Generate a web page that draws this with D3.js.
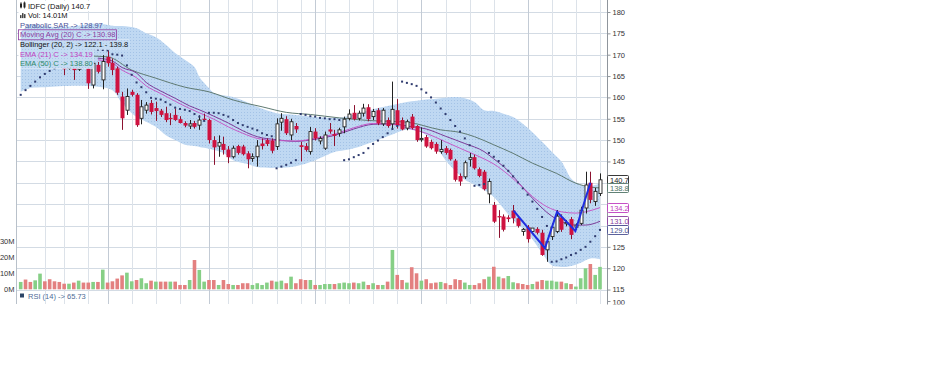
<!DOCTYPE html>
<html>
<head>
<meta charset="utf-8">
<script src="https://cdn.jsdelivr.net/npm/d3@7"></script>
<style>
    body { margin: 0; background: #fff; }
    svg text { font-family: "Liberation Sans", Arial, sans-serif; font-size: 7.5px; }
</style>
</head>
<body>
<div id="chart"></div>
<script>
// ---- data (daily candles, index 0..120) ----
const opens  = [168.0,169.4,168.9,167.8,168.6,170.0,169.4,168.9,168.4,168.3,166.8,168.2,166.6,168.3,166.8,162.9,167.6,164.1,169.5,168.1,
                166.8,160.2,157.0,161.3,160.6,155.1,157.0,158.7,157.5,156.9,156.3,155.2,155.9,154.9,154.0,153.3,154.0,153.5,155.0,154.7,
                150.0,148.6,149.1,147.8,146.1,148.6,148.5,146.9,145.7,146.1,149.2,150.0,149.9,148.5,154.2,154.9,151.2,153.3,148.8,148.6,
                147.3,152.0,149.8,148.1,152.5,151.4,151.6,153.1,155.1,156.4,155.1,156.3,157.7,155.5,157.0,153.8,154.7,153.8,157.0,154.7,
                152.8,155.5,153.3,150.1,150.7,149.6,149.1,147.3,148.1,147.7,145.2,141.6,141.4,145.5,146.0,143.2,142.6,137.4,134.8,132.2,
                132.1,131.9,133.5,131.7,128.6,129.6,128.6,129.2,128.3,124.3,127.4,128.6,131.9,130.4,131.5,129.6,130.5,134.1,140.0,135.6,137.5];
const highs  = [169.6,170.3,169.5,169.4,170.5,170.8,170.0,169.5,169.0,168.6,168.6,168.4,168.4,169.0,167.6,168.4,168.3,169.9,171.0,169.1,
                167.2,161.3,162.1,161.8,161.0,159.4,158.9,159.4,159.0,157.3,157.8,156.3,157.4,155.6,154.4,154.7,154.5,155.8,156.2,155.0,
                150.9,151.1,150.8,148.6,148.7,148.9,148.9,147.4,146.9,150.0,150.4,150.4,150.4,155.1,156.3,155.6,155.0,154.0,149.6,149.3,
                153.1,152.8,150.9,152.0,154.0,152.4,152.9,155.5,157.2,158.2,156.9,158.5,158.4,157.3,157.5,157.5,155.3,163.7,159.6,155.3,
                154.8,156.1,153.5,153.0,151.2,150.1,149.5,150.0,148.6,148.0,145.6,142.2,145.2,147.0,146.6,143.6,143.0,141.0,135.5,133.6,
                132.6,132.4,134.8,132.2,129.4,130.1,129.4,129.6,129.0,126.6,130.5,133.6,132.6,131.3,132.0,130.5,134.4,142.6,142.6,138.8,142.2];
const lows   = [167.2,168.0,167.4,167.3,168.2,168.6,168.1,167.5,167.4,165.2,166.5,164.1,166.2,166.8,162.0,162.1,165.6,161.9,167.2,165.2,
                160.6,152.4,155.9,160.2,153.1,153.7,156.2,156.0,154.5,155.4,154.2,153.5,154.5,153.9,153.0,152.6,152.7,152.4,154.5,149.2,
                144.2,146.1,146.6,144.6,145.7,146.6,146.4,143.4,144.9,143.8,147.8,148.6,146.9,147.7,152.2,151.2,150.0,151.7,145.0,147.3,
                146.6,149.9,149.0,147.7,151.5,148.6,150.8,151.6,154.6,154.6,154.6,155.5,154.4,154.7,153.5,153.3,152.9,152.8,152.7,152.3,
                152.3,152.5,149.6,149.6,148.2,147.8,146.8,146.8,146.6,145.2,140.3,139.3,140.9,143.8,143.1,141.3,138.2,135.2,130.6,127.1,
                128.6,130.8,130.5,129.5,127.6,126.0,128.0,127.9,122.9,121.5,126.6,128.2,128.5,129.8,126.8,129.0,130.1,132.8,135.2,134.6,136.9];
const closes = [169.0,168.6,168.0,168.8,169.6,169.2,168.7,168.2,167.6,166.6,168.0,166.4,167.9,167.2,163.3,168.0,166.0,168.4,168.0,166.4,
                161.1,155.1,160.2,160.6,153.5,157.8,158.2,156.6,156.8,155.9,154.7,154.9,154.7,154.0,153.4,153.8,153.1,154.7,154.7,150.0,
                148.3,149.4,147.7,146.0,148.1,147.0,146.7,145.5,146.1,148.6,148.6,149.1,147.5,153.8,155.1,151.6,154.3,152.5,148.4,147.7,
                152.0,150.4,150.4,151.2,152.0,151.0,152.4,154.9,156.1,154.9,156.3,157.5,154.9,156.7,153.9,157.0,153.3,157.2,153.5,152.5,
                154.3,152.8,150.0,150.4,148.5,148.1,147.3,147.8,147.0,145.5,140.7,140.3,144.7,145.9,143.4,141.6,138.5,140.3,130.9,131.9,
                129.0,131.5,131.7,129.9,129.1,126.8,129.4,128.3,123.1,126.2,129.6,132.2,129.0,130.7,127.8,130.1,133.6,139.5,136.0,138.0,140.7];
// volume, millions
const volumes = [4.6,6.1,4.6,5.6,9.8,5.0,6.3,5.0,4.6,3.5,3.5,4.2,5.4,4.2,4.2,4.6,4.6,12.3,4.2,5.0,
                 6.7,8.7,10.4,5.0,5.8,6.9,3.8,5.4,4.8,4.8,4.8,4.8,4.8,2.7,2.7,5.8,18.3,12.1,4.8,5.8,
                 5.8,2.7,5.8,3.3,2.7,2.7,3.8,3.8,2.7,3.8,2.7,4.2,5.4,4.8,5.4,3.8,7.9,3.8,6.3,5.8,
                 5.8,2.7,2.7,3.3,3.3,3.3,3.8,4.2,3.8,4.2,3.8,4.8,2.7,3.8,2.7,2.7,4.8,24.6,9.0,5.8,
                 4.2,13.8,10.0,5.4,6.3,3.8,4.2,4.6,3.8,2.7,6.3,5.8,4.2,2.7,2.7,3.8,6.3,7.9,14.1,7.9,
                 6.9,8.3,4.4,3.8,3.3,2.7,3.3,4.8,5.8,5.4,5.4,4.8,4.8,3.8,3.3,1.7,6.9,13.1,15.8,9.0,14.01];
// parabolic SAR, one dot per candle
const sar = [160.6,161.7,162.7,163.7,164.7,165.5,166.2,166.8,167.3,171.6,171.5,171.5,171.4,171.3,171.3,171.2,171.2,171.1,171.0,170.1,
             170.0,169.8,167.5,165.3,163.5,162.4,161.2,159.9,159.7,159.5,158.9,158.3,157.6,157.3,157.1,156.8,156.1,155.5,154.5,156.4,
             156.4,156.3,155.9,155.5,154.7,154.0,153.5,153.1,152.7,152.3,151.6,151.2,150.9,143.4,143.8,144.2,144.7,145.3,156.1,155.9,
             155.6,155.5,155.2,155.1,154.9,154.9,154.7,145.3,145.5,146.0,146.5,147.0,148.1,149.1,149.9,150.7,151.6,152.6,153.3,163.7,
             163.4,163.1,162.7,161.9,161.1,160.0,158.8,157.4,156.1,154.7,153.3,152.0,150.4,148.8,139.3,139.5,139.7,147.0,146.1,145.1,
             144.0,142.8,141.5,140.1,138.7,137.2,135.6,133.9,132.0,129.9,121.5,121.6,122.1,122.5,123.1,123.5,124.3,125.0,126.2,127.5,128.97];
// Bollinger (20,2), sampled
const bandIdx   = [0,2,5,8,12,16,19,21,24,26,28,30,32,34,36,37,39,40,42,44,47,49,53,57,61,65,67,70,74,77,80,84,86,88,90,92,94,96,98,100,102,105,108,110,112,113,114,116,118,120];
const bandUpper = [175.3,177.0,176.6,176.5,176.8,177.3,176.8,176.7,176.2,175.0,174.1,172.4,170.4,168.8,167.1,164.8,162.2,161.0,160.5,160.1,158.8,157.8,156.3,155.9,155.4,155.2,155.4,156.3,157.5,158.2,158.9,159.5,159.7,159.9,160.1,159.8,158.9,157.0,156.8,156.2,155.4,152.9,149.6,147.3,145.0,143.0,141.0,139.5,139.3,139.8];
const bandLower = [161.3,162.2,162.4,162.6,162.7,162.5,161.7,158.7,155.4,154.3,153.1,151.2,150.0,148.9,148.6,148.4,148.0,147.7,147.0,145.3,144.4,143.7,143.5,143.9,145.3,147.2,147.6,148.4,150.0,151.3,152.4,151.2,148.5,145.3,142.8,140.7,139.6,138.3,136.7,134.0,131.3,128.2,123.6,120.7,120.3,120.3,120.5,121.3,122.3,122.1];
// moving averages, sampled
const ma20Idx  = [16,19,21,24,26,29,32,35,37,40,43,46,49,53,57,61,65,69,73,77,80,84,88,92,96,98,101,104,106,110,115,117,120];
const ma20Val  = [169.2,168.5,167.0,165.7,163.5,161.5,159.8,158.0,157.1,155.6,154.0,152.2,150.8,150.1,149.7,150.2,151.1,152.6,153.7,153.8,153.3,152.6,150.9,149.2,147.3,145.6,142.8,138.9,136.4,132.2,130.1,130.1,130.98];
const ema21Idx = [16,19,21,24,26,29,32,35,37,40,43,46,49,53,57,61,65,69,73,77,80,84,88,92,96,98,101,104,106,109,112,115,117,120];
const ema21Val = [168.8,168.0,166.4,164.6,162.7,160.9,159.1,157.4,156.4,154.9,153.1,151.6,150.4,149.9,149.8,150.4,151.4,152.9,153.9,153.7,152.9,151.6,149.6,147.6,145.6,144.4,141.9,138.9,136.8,134.4,133.2,132.9,133.2,134.19];
const ema50Idx = [14,18,23,28,34,39,44,50,55,60,66,72,80,87,91,94,98,102,106,111,115,118,120];
const ema50Val = [169.7,169.5,166.4,164.5,162.4,161.3,159.4,157.8,156.5,156.0,155.2,154.6,154.2,152.4,151.8,150.8,148.9,146.9,144.6,142.2,139.9,139.0,138.8];
// hand drawn trend line
const trendIdx = [102.1,108.6,111.1,114.9,118.0];
const trendVal = [133.5,124.7,133.2,128.7,140.0];
// grid (candle index of the week / month start) and ticks
const weekTicks   = [5,9,14,23,28,33,43,48,53,58,63,68,73,78,88,93,98,110,115,120];
const monthTicks  = [18,39,61,83,105];
const priceTicks  = [180,175,170,165,160,155,150,145,140,135,130,125,120,115];
const priceLabels = [180,175,170,165,160,155,150,145,125,120,115];
const volTicks    = [0,10,20,30];
const lastValues = [
    {v: 140.7, label: '140.7', color: '#222'},
    {v: 138.8, label: '138.8', color: '#4f7466'},
    {v: 134.19, label: '134.2', color: '#c03cc0'},
    {v: 130.98, label: '131.0', color: '#8a3a9e'},
    {v: 128.97, label: '129.0', color: '#4a4f90'}
];
const legendRows = [
    {text: 'IDFC (Daily) 140.7', color: '#111', icon: 'candle'},
    {text: 'Vol: 14.01M', color: '#111', icon: 'bars'},
    {text: 'Parabolic SAR -> 128.97', color: '#4a5298'},
    {text: 'Moving Avg (20) C -> 130.98', color: '#8a3a9e', box: true},
    {text: 'Bollinger (20, 2) -> 122.1 - 139.8', color: '#111'},
    {text: 'EMA (21) C -> 134.19', color: '#c03cc0'},
    {text: 'EMA (50) C -> 138.80', color: '#2f8a6a'}
];

class StockChart {
    constructor(el) {
        this.svg = d3.select(el).append('svg').attr('width', 940).attr('height', 385);
        this.n = closes.length;
        this.draw();
    }

    draw() {
        this.createScales();
        this.addDefs();
        this.addGrid();
        this.addBand();
        this.addVolume();
        this.addLines();
        this.addCandles();
        this.addSar();
        this.addTrend();
        this.addAxes();
        this.addLegend();
    }

    createScales() {
        this.x = d3.scaleLinear().domain([0, this.n - 1]).range([20.7, 600]);
        this.y = d3.scaleLinear().domain([115, 180]).range([289.55, 12]);
        this.vy = d3.scaleLinear().domain([0, 30]).range([289.3, 241.3]);
    }

    addDefs() {
        this.defs = this.svg.append('defs');
        const p = this.defs.append('pattern').attr('id', 'stip')
            .attr('patternUnits', 'userSpaceOnUse').attr('width', 3).attr('height', 3);
        p.append('rect').attr('width', 3).attr('height', 3).attr('fill', '#bfd8f2');
        p.append('rect').attr('x', 1).attr('y', 1).attr('width', 1).attr('height', 1).attr('fill', '#a3c2e6');
        this.defs.append('clipPath').attr('id', 'cut').append('rect')
            .attr('x', 0).attr('y', 0).attr('width', 940).attr('height', 304.5);
    }

    addGrid() {
        const g = this.svg.append('g').attr('class', 'grid');
        g.selectAll('line.h').data(priceTicks).join('line')
            .attr('x1', 16).attr('x2', 607)
            .attr('y1', d => Math.round(this.y(d)) + 0.5).attr('y2', d => Math.round(this.y(d)) + 0.5)
            .attr('stroke', '#d3dbe4');
        g.selectAll('line.w').data(weekTicks).join('line')
            .attr('x1', d => Math.round(this.x(d)) + 0.5).attr('x2', d => Math.round(this.x(d)) + 0.5)
            .attr('y1', 0).attr('y2', 304)
            .attr('stroke', '#dce2e9');
        g.selectAll('line.m').data(monthTicks).join('line')
            .attr('x1', d => Math.round(this.x(d)) + 0.5).attr('x2', d => Math.round(this.x(d)) + 0.5)
            .attr('y1', 0).attr('y2', 304)
            .attr('stroke', '#c3cbd5');
        // left border
        g.append('line').attr('x1', 16.5).attr('x2', 16.5).attr('y1', 0).attr('y2', 304).attr('stroke', '#b9c1ca');
    }

    addBand() {
        const area = d3.area()
            .x(d => this.x(d.i)).y0(d => this.y(d.lo)).y1(d => this.y(d.up))
            .curve(d3.curveCatmullRom.alpha(0.5));
        const pts = bandIdx.map((i, k) => ({i, up: bandUpper[k], lo: bandLower[k]}));
        this.bandPath = area(pts);
        this.svg.append('path').attr('d', this.bandPath).attr('fill', 'url(#stip)');
    }

    addVolume() {
        const bars = volumes.map((v, i) => ({i, v, up: i === 0 || closes[i] >= closes[i - 1]}));
        this.svg.append('g').selectAll('rect').data(bars).join('rect')
            .attr('x', d => this.x(d.i) - 1.8)
            .attr('width', 3.6)
            .attr('y', d => this.vy(d.v))
            .attr('height', d => this.vy(0) - this.vy(d.v))
            .attr('fill', d => d.up ? '#86cf86' : '#e38080');
    }

    addLines() {
        const line = d3.line().x(d => this.x(d[0])).y(d => this.y(d[1])).curve(d3.curveMonotoneX);
        const series = [
            {idx: ema50Idx, val: ema50Val, color: '#5f7a72'},
            {idx: ma20Idx, val: ma20Val, color: '#7d3a98'},
            {idx: ema21Idx, val: ema21Val, color: '#c55ac8'}
        ];
        this.svg.append('g').selectAll('path').data(series).join('path')
            .attr('d', s => line(s.idx.map((i, k) => [i, s.val[k]])))
            .attr('fill', 'none')
            .attr('stroke', s => s.color)
            .attr('stroke-width', 1);
    }

    addCandles() {
        const data = closes.map((c, i) => ({i, o: opens[i], h: highs[i], l: lows[i], c}));
        const g = this.svg.append('g').attr('class', 'candles');
        const cx = d => Math.round(this.x(d.i));
        const groups = g.selectAll('g').data(data).join('g');
        groups.append('line')
            .attr('x1', d => cx(d) + 0.5).attr('x2', d => cx(d) + 0.5)
            .attr('y1', d => this.y(d.h)).attr('y2', d => this.y(d.l))
            .attr('stroke', d => d.c >= d.o ? '#222' : '#8c1230');
        groups.append('rect')
            .attr('x', d => d.c >= d.o ? cx(d) - 1 : cx(d) - 1.5)
            .attr('width', d => d.c >= d.o ? 3 : 4)
            .attr('y', d => this.y(Math.max(d.o, d.c)))
            .attr('height', d => Math.max(1, Math.abs(this.y(d.o) - this.y(d.c))))
            .attr('fill', d => d.c >= d.o ? '#fff' : '#cf1240')
            .attr('stroke', d => d.c >= d.o ? '#222' : 'none')
            .attr('stroke-width', 0.9);
    }

    addSar() {
        this.svg.append('g').selectAll('rect').data(sar).join('rect')
            .attr('x', (d, i) => this.x(i) - 1)
            .attr('y', d => this.y(d) - 1)
            .attr('width', 2).attr('height', 2)
            .attr('fill', '#2f3b6e');
    }

    addTrend() {
        const line = d3.line().x(d => this.x(d[0])).y(d => this.y(d[1]));
        this.svg.append('path')
            .attr('d', line(trendIdx.map((i, k) => [i, trendVal[k]])))
            .attr('fill', 'none').attr('stroke', '#1f2ee0').attr('stroke-width', 2);
    }

    addAxes() {
        const ax = this.svg.append('g').attr('clip-path', 'url(#cut)');
        ax.append('line').attr('x1', 607.5).attr('x2', 607.5).attr('y1', 0).attr('y2', 305).attr('stroke', '#8f959c');
        const yAxis = d3.axisRight(this.y).tickValues(priceLabels).tickSize(3).tickPadding(2);
        const ga = ax.append('g').attr('transform', 'translate(607.5,0)').call(yAxis);
        ga.select('.domain').remove();
        ga.selectAll('line').attr('stroke', '#8f959c');
        ga.selectAll('text').attr('fill', '#333').style('font-size', '7.5px');
        // RSI panel top label, cut off by the picture edge
        ax.append('line').attr('x1', 607.5).attr('x2', 610.5).attr('y1', 301.5).attr('y2', 301.5).attr('stroke', '#8f959c');
        ax.append('text').attr('x', 612.5).attr('y', 304.5).attr('fill', '#333').text('100');

        const vAxis = d3.axisLeft(this.vy).tickValues(volTicks).tickSize(0).tickPadding(2)
            .tickFormat(d => d + 'M');
        const gv = this.svg.append('g').attr('transform', 'translate(16.5,0)').call(vAxis);
        gv.select('.domain').remove();
        gv.selectAll('text').attr('fill', '#333').style('font-size', '7.5px');

        // last value boxes
        const boxes = this.svg.append('g').selectAll('g').data(lastValues).join('g')
            .attr('transform', d => 'translate(607.5,' + Math.round(this.y(d.v)) + ')');
        boxes.append('rect').attr('x', 0).attr('y', -4.5).attr('width', 21).attr('height', 9)
            .attr('rx', 1).attr('fill', '#fff').attr('stroke', d => d.color).attr('stroke-width', 0.9);
        boxes.append('text').attr('x', 2.5).attr('y', 3).attr('fill', d => d.color).text(d => d.label);
    }

    addLegend() {
        const g = this.svg.append('g').attr('class', 'legend');
        const bgLayer = g.append('g');
        const bandCopy = g.append('path').attr('d', this.bandPath).attr('fill', 'url(#stip)')
            .attr('clip-path', 'url(#legclip)');
        const rows = g.append('g').selectAll('g').data(legendRows).join('g')
            .attr('transform', (d, k) => 'translate(0,' + (8.5 + k * 9.6) + ')');
        rows.append('text')
            .attr('x', d => d.icon ? 28 : 20).attr('y', 0)
            .attr('fill', d => d.color).text(d => d.text);

        // white backing under every row, with the band shown again over it
        const clip = this.defs.append('clipPath').attr('id', 'legclip');
        rows.each(function (d, k) {
            const row = d3.select(this);
            const b = row.select('text').node().getBBox();
            const ty = 8.5 + k * 9.6;
            const box = {x: 18.5, y: ty + b.y - 0.5, w: b.x + b.width - 17.5, h: b.height + 1};
            bgLayer.append('rect').attr('x', box.x).attr('y', box.y).attr('width', box.w).attr('height', box.h)
                .attr('fill', '#fff');
            clip.append('rect').attr('x', box.x).attr('y', box.y).attr('width', box.w).attr('height', box.h);
            if (d.box) {
                row.append('rect').attr('x', box.x).attr('y', box.y - ty).attr('width', box.w).attr('height', box.h)
                    .attr('fill', 'none').attr('stroke', d.color).attr('stroke-width', 0.8);
            }
            if (d.icon === 'candle') {
                row.append('rect').attr('x', 20).attr('y', -5).attr('width', 2).attr('height', 4).attr('fill', '#222');
                row.append('rect').attr('x', 23.5).attr('y', -6).attr('width', 2).attr('height', 5).attr('fill', '#222');
                row.append('line').attr('x1', 21).attr('x2', 21).attr('y1', -6.5).attr('y2', 0).attr('stroke', '#222').attr('stroke-width', 0.7);
                row.append('line').attr('x1', 24.5).attr('x2', 24.5).attr('y1', -7).attr('y2', 0).attr('stroke', '#222').attr('stroke-width', 0.7);
            }
            if (d.icon === 'bars') {
                [[20, 3], [22, 5], [24, 4]].forEach(([bx, bh]) => {
                    row.append('rect').attr('x', bx).attr('y', -bh).attr('width', 1.5).attr('height', bh).attr('fill', '#444');
                });
            }
        });
        bandCopy.attr('opacity', 0.9);

        // RSI panel header
        const rsi = this.svg.append('g').attr('transform', 'translate(0,298.5)');
        rsi.append('rect').attr('x', 20).attr('y', -5).attr('width', 4).attr('height', 4).attr('fill', '#2b4466');
        rsi.append('text').attr('x', 28).attr('y', 0).attr('fill', '#4d6c96').text('RSI (14) -> 65.73');
    }
}

new StockChart('#chart');
</script>
</body>
</html>
